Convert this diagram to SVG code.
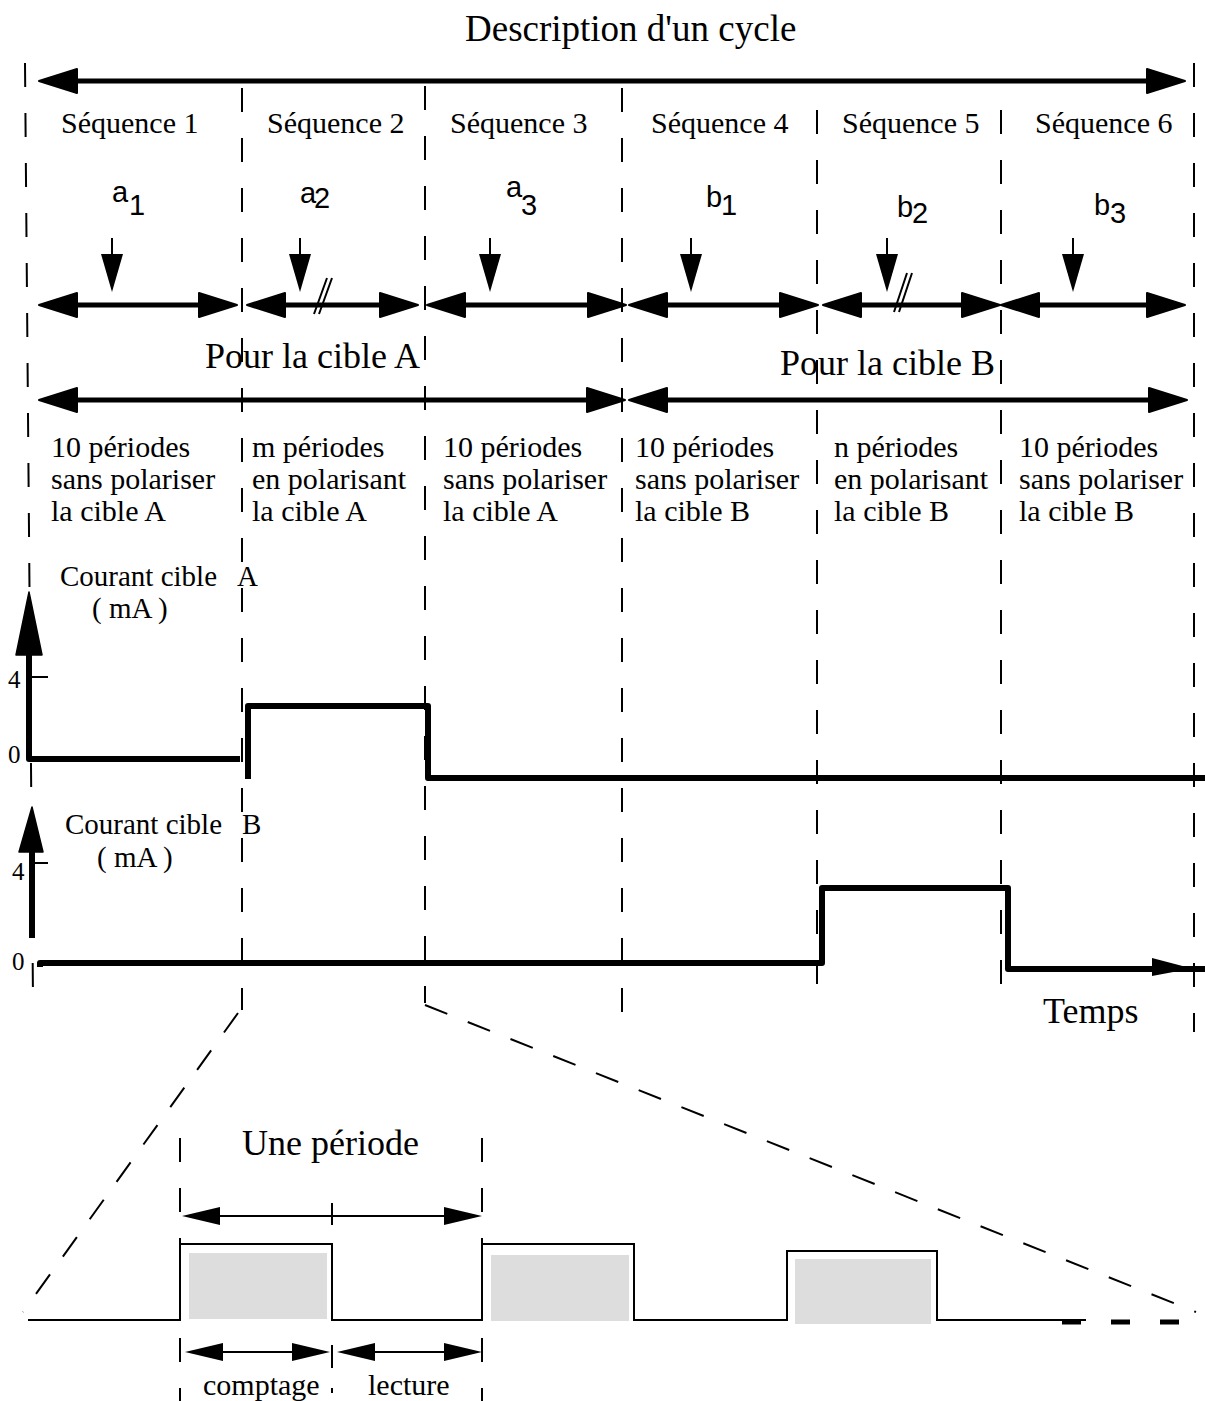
<svg xmlns="http://www.w3.org/2000/svg" width="1205" height="1401" viewBox="0 0 1205 1401">
<style>
.dash{stroke:#000;stroke-width:2;stroke-dasharray:24 26;fill:none}
.sl{stroke:#000;stroke-width:2;stroke-dasharray:24 22;fill:none}
.heavy{stroke:#000;stroke-width:5;fill:none}
.thin{stroke:#000;stroke-width:2;fill:none}
.thick{stroke:#000;stroke-width:6;fill:none;stroke-linejoin:round}
.wave{stroke:#000;stroke-width:2;fill:none}
.serif{font-family:"Liberation Serif","Times New Roman",serif;fill:#000}
.sans{font-family:"Liberation Sans",Arial,sans-serif;fill:#000}
.s30{font-size:30px}
.s36{font-size:36px}
.grey{fill:#dddddd}
</style>
<defs>
<marker id="big" markerUnits="userSpaceOnUse" markerWidth="44" markerHeight="30" viewBox="-3 -15 44 30" refX="0" refY="0" orient="auto-start-reverse" overflow="visible">
<path d="M-2,-12 L36,0 L-2,12 Z" fill="#000" stroke="#000" stroke-width="2" stroke-linejoin="round"/>
</marker>
<marker id="small" markerUnits="userSpaceOnUse" markerWidth="44" markerHeight="30" viewBox="-3 -15 44 30" refX="0" refY="0" orient="auto" overflow="visible">
<path d="M-1,-11 L37,0 L-1,11 Z" fill="#000"/>
</marker>
<marker id="per" markerUnits="userSpaceOnUse" markerWidth="44" markerHeight="30" viewBox="-3 -15 44 30" refX="0" refY="0" orient="auto-start-reverse" overflow="visible">
<path d="M-1,-9 L37,0 L-1,9 Z" fill="#000"/>
</marker>
</defs>
<rect width="1205" height="1401" fill="#fff"/>

<g id="grid">
<line class="dash" x1="25" y1="63" x2="33" y2="1000"/>
<line class="dash" x1="242" y1="88" x2="242" y2="1010"/>
<line class="dash" x1="425" y1="86" x2="425" y2="1003"/>
<line class="dash" x1="622" y1="88" x2="622" y2="1022"/>
<line class="dash" x1="817" y1="110" x2="817" y2="1000"/>
<line class="dash" x1="1001" y1="110" x2="1001" y2="995"/>
<line class="dash" x1="1194" y1="63" x2="1194" y2="1032"/>
</g>

<g id="title">
<text class="serif" x="465" y="41" font-size="37">Description d'un cycle</text>
</g>

<g id="connectors">
<line class="heavy" x1="75" y1="81" x2="1149" y2="81" marker-start="url(#big)" marker-end="url(#big)"/>
<line class="heavy" x1="75" y1="305" x2="201" y2="305" marker-start="url(#big)" marker-end="url(#big)"/>
<line class="heavy" x1="283" y1="305" x2="382" y2="305" marker-start="url(#big)" marker-end="url(#big)"/>
<line class="heavy" x1="463" y1="305" x2="590" y2="305" marker-start="url(#big)" marker-end="url(#big)"/>
<line class="heavy" x1="665" y1="305" x2="782" y2="305" marker-start="url(#big)" marker-end="url(#big)"/>
<line class="heavy" x1="859" y1="305" x2="964" y2="305" marker-start="url(#big)" marker-end="url(#big)"/>
<line class="heavy" x1="1037" y1="305" x2="1149" y2="305" marker-start="url(#big)" marker-end="url(#big)"/>
<line class="heavy" x1="75" y1="400" x2="589" y2="400" marker-start="url(#big)" marker-end="url(#big)"/>
<line class="heavy" x1="665" y1="400" x2="1151" y2="400" marker-start="url(#big)" marker-end="url(#big)"/>
<line class="thin" x1="112" y1="238" x2="112" y2="255" marker-end="url(#small)"/>
<line class="thin" x1="300" y1="238" x2="300" y2="255" marker-end="url(#small)"/>
<line class="thin" x1="490" y1="238" x2="490" y2="255" marker-end="url(#small)"/>
<line class="thin" x1="691" y1="238" x2="691" y2="255" marker-end="url(#small)"/>
<line class="thin" x1="887" y1="238" x2="887" y2="255" marker-end="url(#small)"/>
<line class="thin" x1="1073" y1="238" x2="1073" y2="255" marker-end="url(#small)"/>
<path class="thin" stroke-width="1.5" d="M314,314 L327,278 M319,314 L332,278"/>
<path class="thin" stroke-width="1.5" d="M894,312 L907,273 M899,312 L912,273"/>
</g>

<g id="sequences" class="serif s30">
<text x="61" y="133">Séquence 1</text>
<text x="267" y="133">Séquence 2</text>
<text x="450" y="133">Séquence 3</text>
<text x="651" y="133">Séquence 4</text>
<text x="842" y="133">Séquence 5</text>
<text x="1035" y="133">Séquence 6</text>
</g>

<g id="labels" class="sans" font-size="29">
<text x="112" y="202">a</text><text x="129" y="215">1</text>
<text x="300" y="203">a</text><text x="314" y="208">2</text>
<text x="506" y="197">a</text><text x="521" y="215">3</text>
<text x="706" y="207">b</text><text x="721" y="215">1</text>
<text x="897" y="217">b</text><text x="912" y="223">2</text>
<text x="1094" y="215">b</text><text x="1110" y="223">3</text>
</g>

<g id="cibles" class="serif s36">
<text x="205" y="368">Pour la cible A</text>
<text x="780" y="375">Pour la cible B</text>
</g>

<g id="descriptions" class="serif s30">
<text x="51" y="457">10 périodes</text>
<text x="51" y="489">sans polariser</text>
<text x="51" y="521">la cible A</text>
<text x="252" y="457">m périodes</text>
<text x="252" y="489">en polarisant</text>
<text x="252" y="521">la cible A</text>
<text x="443" y="457">10 périodes</text>
<text x="443" y="489">sans polariser</text>
<text x="443" y="521">la cible A</text>
<text x="635" y="457">10 périodes</text>
<text x="635" y="489">sans polariser</text>
<text x="635" y="521">la cible B</text>
<text x="834" y="457">n périodes</text>
<text x="834" y="489">en polarisant</text>
<text x="834" y="521">la cible B</text>
<text x="1019" y="457">10 périodes</text>
<text x="1019" y="489">sans polariser</text>
<text x="1019" y="521">la cible B</text>
</g>

<g id="courantA">
<text class="serif" x="60" y="586" font-size="29">Courant cible <tspan x="237">A</tspan></text>
<text class="serif" x="92" y="618" font-size="29">( mA )</text>
<polygon points="29,592 42,655 16,655" fill="#000" stroke="#000" stroke-width="1.5" stroke-linejoin="round"/>
<line class="thin" x1="29" y1="677" x2="48" y2="677"/>
<text class="serif" x="8" y="688" font-size="25">4</text>
<text class="serif" x="8" y="763" font-size="25">0</text>
<path class="thick" d="M29,654 L29,759 L240,759"/>
<path class="thick" d="M248,779 L248,706 L428,706 L428,778 L1205,778"/>
</g>

<g id="courantB">
<text class="serif" x="65" y="834" font-size="29">Courant cible <tspan x="242">B</tspan></text>
<text class="serif" x="97" y="867" font-size="29">( mA )</text>
<polygon points="32,807 43,852 19,852" fill="#000" stroke="#000" stroke-width="1.5" stroke-linejoin="round"/>
<line class="thick" x1="32" y1="851" x2="32" y2="938" stroke-linejoin="miter"/>
<line class="thin" x1="32" y1="863" x2="48" y2="863"/>
<text class="serif" x="12" y="880" font-size="25">4</text>
<text class="serif" x="12" y="970" font-size="25">0</text>
<path class="thick" d="M40,967 L40,963 L822,963 L822,888 L1008,888 L1008,969 L1205,969"/>
<polygon points="1152,958 1192,968.5 1152,976" fill="#000"/>
<text class="serif" x="1043" y="1023" font-size="36">Temps</text>
</g>

<g id="zoom">
<line class="sl" x1="238" y1="1013" x2="23" y2="1312"/>
<line class="sl" x1="425" y1="1005" x2="1196" y2="1312"/>
</g>

<g id="periode">
<rect class="grey" x="189" y="1253" width="138" height="66"/>
<rect class="grey" x="491" y="1255" width="138" height="66"/>
<rect class="grey" x="795" y="1259" width="136" height="65"/>
<path class="wave" d="M28,1320 L180,1320 L180,1244 L332,1244 L332,1320 L482,1320 L482,1244 L634,1244 L634,1320 L787,1320 L787,1251 L937,1251 L937,1320 L1086,1320"/>
<line x1="1062" y1="1322" x2="1182" y2="1322" stroke="#000" stroke-width="5" stroke-dasharray="19 30"/>
<line class="dash" x1="180" y1="1138" x2="180" y2="1401" stroke-dasharray="22 25"/>
<line class="dash" x1="482" y1="1138" x2="482" y2="1401" stroke-dasharray="22 25"/>
<text class="serif s36" x="242" y="1155">Une période</text>
<line class="thin" x1="219" y1="1216" x2="445" y2="1216" marker-start="url(#per)" marker-end="url(#per)"/>
<line class="thin" x1="332" y1="1203" x2="332" y2="1225"/>
<line class="thin" x1="222" y1="1352" x2="293" y2="1352" marker-start="url(#per)" marker-end="url(#per)"/>
<line class="thin" x1="374" y1="1352" x2="445" y2="1352" marker-start="url(#per)" marker-end="url(#per)"/>
<line class="thin" x1="332" y1="1345" x2="332" y2="1368"/>
<line class="thin" x1="332" y1="1388" x2="332" y2="1393"/>
<text class="serif s30" x="203" y="1395">comptage</text>
<text class="serif s30" x="368" y="1395">lecture</text>
</g>
</svg>
